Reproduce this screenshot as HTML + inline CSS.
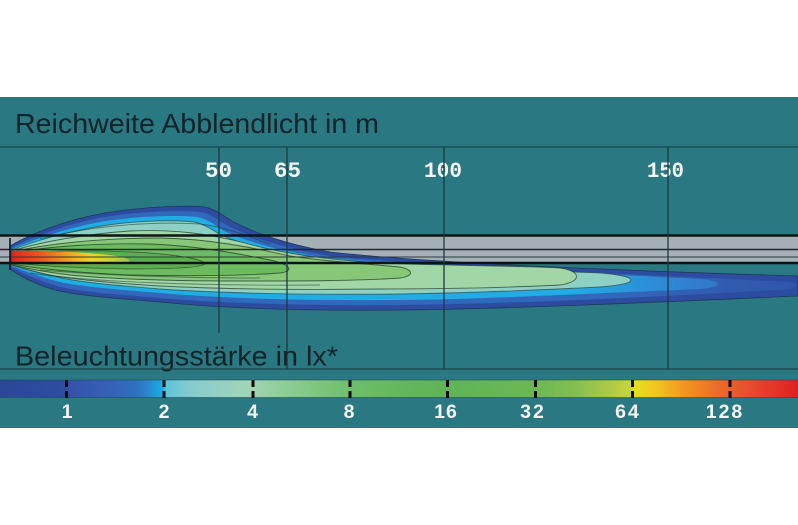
<!DOCTYPE html>
<html>
<head>
<meta charset="utf-8">
<style>
html,body{margin:0;padding:0;background:#ffffff;}
svg{display:block;}
</style>
</head>
<body>
<svg width="798" height="525" viewBox="0 0 798 525" xmlns="http://www.w3.org/2000/svg">
  <defs>
    <linearGradient id="gB" gradientUnits="userSpaceOnUse" x1="0" y1="0" x2="798" y2="0">
      <stop offset="0" stop-color="#3168bc"/>
      <stop offset="0.75" stop-color="#3268bc"/>
      <stop offset="1" stop-color="#2f56aa"/>
    </linearGradient>
    <linearGradient id="gC" gradientUnits="userSpaceOnUse" x1="0" y1="0" x2="798" y2="0">
      <stop offset="0" stop-color="#1eaee4"/>
      <stop offset="0.72" stop-color="#22ace4"/>
      <stop offset="0.8" stop-color="#2b92da"/>
      <stop offset="0.9" stop-color="#3476c6"/>
    </linearGradient>
    <linearGradient id="gI" gradientUnits="userSpaceOnUse" x1="12" y1="0" x2="132" y2="0">
      <stop offset="0" stop-color="#e4261c"/>
      <stop offset="0.25" stop-color="#ee5a20"/>
      <stop offset="0.45" stop-color="#f29a20"/>
      <stop offset="0.65" stop-color="#eed428"/>
      <stop offset="0.85" stop-color="#c4d43c"/>
      <stop offset="1" stop-color="#92c44c"/>
    </linearGradient>
    <linearGradient id="gBar" gradientUnits="userSpaceOnUse" x1="0" y1="0" x2="798" y2="0">
      <stop offset="0" stop-color="#2a4696"/>
      <stop offset="0.083" stop-color="#2e4ea2"/>
      <stop offset="0.09" stop-color="#3454aa"/>
      <stop offset="0.14" stop-color="#3562b6"/>
      <stop offset="0.17" stop-color="#3070c0"/>
      <stop offset="0.185" stop-color="#2a86ce"/>
      <stop offset="0.2" stop-color="#1ca6de"/>
      <stop offset="0.205" stop-color="#18b6e8"/>
      <stop offset="0.208" stop-color="#5cc4d8"/>
      <stop offset="0.24" stop-color="#86ccce"/>
      <stop offset="0.3" stop-color="#9ed4bc"/>
      <stop offset="0.317" stop-color="#a0d4b4"/>
      <stop offset="0.35" stop-color="#90cf9c"/>
      <stop offset="0.4" stop-color="#7cc57e"/>
      <stop offset="0.44" stop-color="#6ebf6a"/>
      <stop offset="0.5" stop-color="#64b75c"/>
      <stop offset="0.56" stop-color="#5fb456"/>
      <stop offset="0.67" stop-color="#6ab854"/>
      <stop offset="0.72" stop-color="#84bf50"/>
      <stop offset="0.76" stop-color="#a8c848"/>
      <stop offset="0.79" stop-color="#cad43a"/>
      <stop offset="0.795" stop-color="#e4de20"/>
      <stop offset="0.82" stop-color="#f0c820"/>
      <stop offset="0.85" stop-color="#f2a020"/>
      <stop offset="0.88" stop-color="#ee7e24"/>
      <stop offset="0.915" stop-color="#e8602c"/>
      <stop offset="0.95" stop-color="#e6442c"/>
      <stop offset="1" stop-color="#de2020"/>
    </linearGradient>
  </defs>

  <!-- panel -->
  <rect x="0" y="97" width="798" height="331" fill="#297882"/>

  <!-- titles -->
  <text x="15" y="133" font-family="Liberation Sans, sans-serif" font-size="28" fill="#10232a" textLength="364" lengthAdjust="spacingAndGlyphs">Reichweite Abblendlicht in m</text>

  <!-- top horizontal line -->
  <line x1="0" y1="147" x2="798" y2="147" stroke="#1d4148" stroke-width="1.3"/>

  <!-- distance labels -->
  <g font-family="Liberation Mono, monospace" font-weight="bold" font-size="22" fill="#f4f6f6">
    <text x="205" y="177" textLength="27" lengthAdjust="spacingAndGlyphs">50</text>
    <text x="274" y="177" textLength="27" lengthAdjust="spacingAndGlyphs">65</text>
    <text x="424" y="177" textLength="38" lengthAdjust="spacingAndGlyphs">100</text>
    <text x="647" y="177" textLength="37" lengthAdjust="spacingAndGlyphs">150</text>
  </g>

  <!-- road grey band -->
  <rect x="0" y="235" width="798" height="28" fill="#a6b1b7"/>

  <!-- beam layers -->
  <g>
    <!-- A outer -->
    <path d="M10,246 C30,234 65,220 105,213 C140,207 185,205 205,207 C215,209 222,215 232,221 C252,232 285,244 330,252 C420,262 600,270 798,276 L798,296 C640,303 500,309 400,310 C300,311 220,308 160,302 C110,298 75,295 55,290 C35,284 20,276 10,269 Z" fill="#2c4ca2" stroke="#1f3a5a" stroke-width="0.8"/>
    <!-- B -->
    <path d="M11,248 C30,238 65,224 105,217 C140,211 183,210 201,212 C211,214 218,220 228,226 C250,237 283,248 330,256 C420,265 600,273 790,282 C798,284 798,287 790,289 C640,298 500,304 400,305 C300,306 220,303 160,298 C110,294 75,291 57,286 C37,280 22,273 11,267 Z" fill="url(#gB)"/>
    <!-- C cyan -->
    <path d="M12,249 C32,240 66,228 105,221 C140,216 180,215 197,217 C207,219 214,224 224,231 C248,242 282,252 330,258 C420,266 560,272 700,279 C724,281 724,287 700,289 C560,295 480,299 400,300 C300,301 220,298 160,293 C110,289 78,286 60,282 C40,277 24,271 12,266 Z" fill="url(#gC)"/>
    <!-- D light aqua (2 lx) -->
    <path d="M12,250 C32,242 68,231 108,225 C145,220 178,220 194,222 C204,224 211,229 221,235 C246,246 282,254 330,260 C420,267 520,270 600,273 C640,276 642,284 600,287 C520,291 460,293 400,294 C300,295 220,293 160,289 C110,285 80,282 62,278 C42,274 25,269 12,265 Z" fill="#8ed0c4" stroke="#25483f" stroke-width="0.9" stroke-opacity="0.7"/>
    <!-- E light green (4 lx) -->
    <path d="M12,251 C40,242 85,234 130,231 C175,229 210,234 245,243 C280,253 320,259 380,263 C460,266 530,266 560,268 C582,271 582,282 560,285 C500,288 440,289 380,289 C300,290 220,289 160,286 C110,283 75,279 55,276 C35,272 22,268 12,265 Z" fill="#a2d6a6" stroke="#24402e" stroke-width="0.9" stroke-opacity="0.75"/>
    <!-- F green (8 lx) -->
    <path d="M12,252 C45,244 100,238 160,238 C210,239 250,247 290,256 C330,262 380,265 400,267 C414,270 414,276 400,278 C360,281 300,281 240,281 C170,281 110,279 70,275 C45,272 25,268 12,265 Z" fill="#86c878" stroke="#1f3a24" stroke-width="0.9" stroke-opacity="0.75"/>
    <!-- G mid green (16 lx) -->
    <path d="M12,253 C50,246 100,243 150,244 C200,246 240,254 270,260 C292,265 294,271 280,273 C240,276 180,276 130,275 C80,273 40,269 12,264 Z" fill="#6cbb5e" stroke="#1f3a24" stroke-width="0.9" stroke-opacity="0.75"/>
    <!-- H darker green (32 lx) -->
    <path d="M12,254 C50,250 100,250 150,253 C185,256 205,260 205,264 C200,268 170,269 130,269 C80,268 40,266 12,263 Z" fill="#5aae4e" stroke="#1f3a24" stroke-width="0.8" stroke-opacity="0.7"/>
    <!-- I source hot zone -->
    <path d="M12,251 C40,250 80,252 110,255 C132,258 136,262 118,264 C80,265 40,264 12,263 Z" fill="url(#gI)"/>
    <!-- extra contour lines -->
    <g fill="none" stroke="#1f3a30" stroke-width="0.9" stroke-opacity="0.55">
      <path d="M40,239 C90,226 150,221 200,224 C230,228 250,237 270,244"/>
      <path d="M30,273 C90,282 200,286 320,285"/>
      <path d="M40,270 C100,275 180,278 260,278"/>
    </g>
  </g>

  <!-- road lines on top -->
  <line x1="0" y1="235.5" x2="798" y2="235.5" stroke="#0d1416" stroke-width="2.4"/>
  <line x1="0" y1="249.5" x2="798" y2="249.5" stroke="#1b2a2e" stroke-width="1.4"/>
  <line x1="0" y1="257" x2="798" y2="257" stroke="#2b3a3e" stroke-width="1.1"/>
  <line x1="0" y1="263" x2="798" y2="263" stroke="#0d1416" stroke-width="2.4"/>
  <line x1="10" y1="238" x2="10" y2="270" stroke="#0d1416" stroke-width="1.6"/>

  <!-- vertical distance lines -->
  <g stroke="#1c3a40" stroke-width="1.3">
    <line x1="219" y1="147" x2="219" y2="333"/>
    <line x1="287" y1="147" x2="287" y2="369"/>
    <line x1="444" y1="147" x2="444" y2="369"/>
    <line x1="668" y1="147" x2="668" y2="369"/>
  </g>

  <!-- subtitle -->
  <text x="15" y="365.5" font-family="Liberation Sans, sans-serif" font-size="27.5" fill="#10232a" textLength="323" lengthAdjust="spacingAndGlyphs">Beleuchtungsstärke in lx*</text>
  <line x1="0" y1="369" x2="798" y2="369" stroke="#1d4148" stroke-width="1.3"/>

  <!-- color bar -->
  <rect x="0" y="380" width="798" height="17.5" fill="url(#gBar)"/>
  <line x1="0" y1="380" x2="798" y2="380" stroke="#1e4a50" stroke-width="0.8" stroke-opacity="0.7"/>
  <line x1="0" y1="397.5" x2="798" y2="397.5" stroke="#1e4a50" stroke-width="0.8" stroke-opacity="0.7"/>
  <g fill="#0a0a0a">
    <rect x="65" y="380" width="3" height="7"/><rect x="65" y="391" width="3" height="7"/>
    <rect x="162.5" y="380" width="3" height="7"/><rect x="162.5" y="391" width="3" height="7"/>
    <rect x="251.5" y="380" width="3" height="7"/><rect x="251.5" y="391" width="3" height="7"/>
    <rect x="348.5" y="380" width="3" height="7"/><rect x="348.5" y="391" width="3" height="7"/>
    <rect x="446" y="380" width="3" height="7"/><rect x="446" y="391" width="3" height="7"/>
    <rect x="534" y="380" width="3" height="7"/><rect x="534" y="391" width="3" height="7"/>
    <rect x="631" y="380" width="3" height="7"/><rect x="631" y="391" width="3" height="7"/>
    <rect x="728.5" y="380" width="3" height="7"/><rect x="728.5" y="391" width="3" height="7"/>
  </g>
  <g font-family="Liberation Sans, sans-serif" font-weight="bold" font-size="19.5" fill="#f4f6f6" text-anchor="middle">
    <text x="67" y="418">1</text>
    <text x="164" y="418">2</text>
    <text x="252.5" y="418">4</text>
    <text x="349" y="418">8</text>
    <text x="446" y="418" letter-spacing="1">16</text>
    <text x="533" y="418" letter-spacing="2">32</text>
    <text x="628" y="418" letter-spacing="2">64</text>
    <text x="725" y="418" letter-spacing="2">128</text>
  </g>
</svg>
</body>
</html>
